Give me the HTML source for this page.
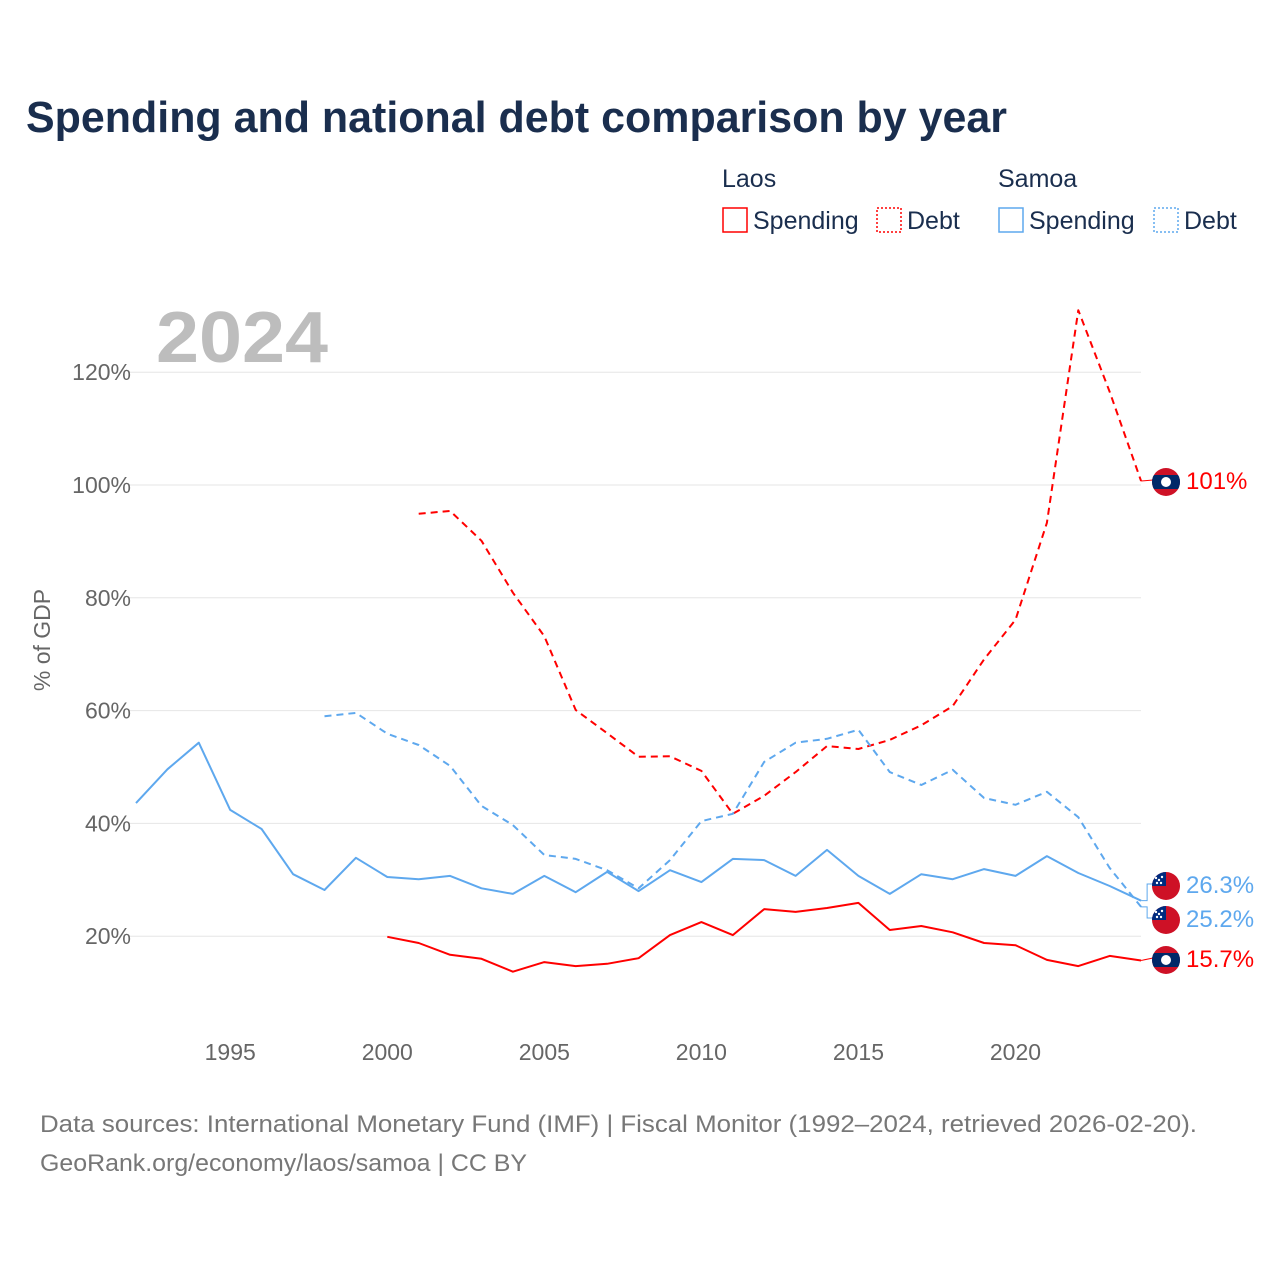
<!DOCTYPE html>
<html><head><meta charset="utf-8"><style>
body{margin:0;background:#fff;font-family:"Liberation Sans",sans-serif}
</style></head><body>
<svg id="chart" width="1280" height="1280" xmlns="http://www.w3.org/2000/svg" style="font-family:'Liberation Sans',sans-serif">
<text x="26" y="132" font-size="44" font-weight="bold" fill="#1a2e4e" textLength="981" lengthAdjust="spacingAndGlyphs">Spending and national debt comparison by year</text>
<g font-size="25" fill="#1a2e4e">
<text x="722" y="187">Laos</text>
<text x="998" y="187">Samoa</text>
<g><rect x="723" y="208" width="24" height="24" fill="none" stroke="#ff0000" stroke-width="1.5"/><text x="753" y="229">Spending</text></g>
<g><rect x="877" y="208" width="24" height="24" fill="none" stroke="#ff0000" stroke-width="1.5" stroke-dasharray="2,2"/><text x="907" y="229">Debt</text></g>
<g><rect x="999" y="208" width="24" height="24" fill="none" stroke="#5ea8ee" stroke-width="1.5"/><text x="1029" y="229">Spending</text></g>
<g><rect x="1154" y="208" width="24" height="24" fill="none" stroke="#5ea8ee" stroke-width="1.5" stroke-dasharray="2,2"/><text x="1184" y="229">Debt</text></g>
</g>
<text x="156" y="362" font-size="72" font-weight="bold" fill="#bdbdbd" textLength="172" lengthAdjust="spacingAndGlyphs">2024</text>
<text transform="translate(50,640) rotate(-90)" text-anchor="middle" font-size="23" fill="#666">% of GDP</text>
<g id="grid"></g><g id="ticks"></g><g id="series"></g><g id="labels"></g>
<text x="40" y="1132" font-size="24" fill="#777" textLength="1157" lengthAdjust="spacingAndGlyphs">Data sources: International Monetary Fund (IMF) | Fiscal Monitor (1992–2024, retrieved 2026-02-20).</text>
<text x="40" y="1171" font-size="24" fill="#777" textLength="487" lengthAdjust="spacingAndGlyphs">GeoRank.org/economy/laos/samoa | CC BY</text>
</svg>
<script>
const yTicks=[20,40,60,80,100,120];
const xTicks=[1995,2000,2005,2010,2015,2020];
const laosSpendYears=[2000,2024];
const laosSpending=[19.9,18.8,16.7,16.0,13.7,15.4,14.7,15.1,16.1,20.2,22.5,20.2,24.8,24.3,25.0,25.9,21.1,21.8,20.7,18.8,18.4,15.8,14.7,16.5,15.7];
const laosDebtYears=[2001,2024];
const laosDebt=[94.9,95.4,90.1,80.9,73.2,60.1,56.0,51.8,51.9,49.3,41.7,44.9,49.1,53.7,53.2,54.8,57.4,60.8,69.1,76.1,93.3,131,116.5,100.7];
const samoaSpendYears=[1992,2024];
const samoaSpending=[43.6,49.6,54.3,42.4,39.0,31.0,28.2,33.9,30.5,30.1,30.7,28.5,27.5,30.7,27.8,31.4,28.0,31.7,29.6,33.7,33.5,30.7,35.3,30.7,27.5,31.0,30.1,31.9,30.7,34.2,31.2,28.9,26.3];
const samoaDebtYears=[1998,2024];
const samoaDebt=[59.0,59.6,55.9,53.9,50.2,43.1,39.7,34.4,33.7,31.7,28.5,33.5,40.4,41.7,50.9,54.3,55.0,56.6,49.1,46.8,49.5,44.5,43.3,45.6,41.1,32.1,25.2];
const NS="http://www.w3.org/2000/svg";
const X=y=>136+(y-1992)*31.41;
const Y=v=>1049-v*5.64;
function mk(t,a,p){const e=document.createElementNS(NS,t);for(const k in a)e.setAttribute(k,a[k]);p.appendChild(e);return e;}
const svg=document.getElementById('chart');
const defs=mk('defs',{},svg);
const grid=document.getElementById('grid'),ticks=document.getElementById('ticks'),ser=document.getElementById('series'),lab=document.getElementById('labels');
yTicks.forEach(v=>{
 const l=mk('line',{x1:128,x2:1141,y1:Y(v),y2:Y(v),stroke:'#e6e6e6','stroke-width':1},grid);
 
 
 const t=mk('text',{x:131,y:Y(v)+8,'text-anchor':'end','font-size':23,fill:'#666'},ticks);t.textContent=v+'%';
 
 
});
xTicks.forEach(v=>{
 const t=mk('text',{x:X(v),y:1060,'text-anchor':'middle','font-size':23,fill:'#666'},ticks);t.textContent=v;
 
 
});
function line(start,vals,color,dash,name){
 const pts=vals.map((v,i)=>X(start+i).toFixed(1)+','+Y(v).toFixed(1)).join(' ');
 const p=mk('polyline',{points:pts,fill:'none',stroke:color,'stroke-width':2,'stroke-dasharray':dash||'none','stroke-linejoin':'round'},ser);
 
 
}
line(laosDebtYears[0],laosDebt,'#ff0000','7,5','laos-debt-line');
line(samoaDebtYears[0],samoaDebt,'#5ea8ee','7,5','samoa-debt-line');
line(samoaSpendYears[0],samoaSpending,'#5ea8ee','','samoa-spending-line');
line(laosSpendYears[0],laosSpending,'#ff0000','','laos-spending-line');
let fid=0;
function flag(cx,cy,type,g){
 const id='fc'+(fid++);
 const cp=mk('clipPath',{id},defs);mk('circle',{cx,cy,r:14},cp);
 const f=mk('g',{'clip-path':`url(#${id})`},g);
 if(type==='laos'){
  mk('rect',{x:cx-14,y:cy-14,width:28,height:28,fill:'#ce1126'},f);
  mk('rect',{x:cx-14,y:cy-7,width:28,height:14,fill:'#002868'},f);
  mk('circle',{cx,cy,r:5,fill:'#fff'},f);
 }else{
  mk('rect',{x:cx-14,y:cy-14,width:28,height:28,fill:'#ce1126'},f);
  mk('rect',{x:cx-14,y:cy-14,width:14,height:14,fill:'#002b7f'},f);
  [[-7,-6],[-4,-9],[-10,-8],[-5,-3],[-9,-3]].forEach(([dx,dy])=>mk('circle',{cx:cx+dx,cy:cy+dy,r:1.2,fill:'#fff'},f));
 }
}
function endLabel(start,vals,color,type,ly,name){
 const v=vals[vals.length-1],yr=start+vals.length-1;
 const g=mk('g',{},lab);
 
 
 const py=Y(v);
 if(Math.abs(py-ly)>3){
  mk('polyline',{points:`${X(yr)},${py} ${X(yr)+6},${py} ${X(yr)+6},${ly} ${X(yr)+12},${ly}`,fill:'none',stroke:color,'stroke-width':1},g);
 } else mk('line',{x1:X(yr),x2:X(yr)+12,y1:py,y2:ly,stroke:color,'stroke-width':1},g);
 flag(1166,ly+2,type,g);
 const t=mk('text',{x:1186,y:ly+9,'font-size':24,fill:color},g);
 t.textContent=(v>=100?Math.round(v):v.toFixed(1))+'%';
}
endLabel(laosDebtYears[0],laosDebt,'#ff0000','laos',480,'laos-debt-end-label');
endLabel(samoaSpendYears[0],samoaSpending,'#5ea8ee','samoa',884,'samoa-spending-end-label');
endLabel(samoaDebtYears[0],samoaDebt,'#5ea8ee','samoa',918,'samoa-debt-end-label');
endLabel(laosSpendYears[0],laosSpending,'#ff0000','laos',958,'laos-spending-end-label');
</script>
</body></html>
